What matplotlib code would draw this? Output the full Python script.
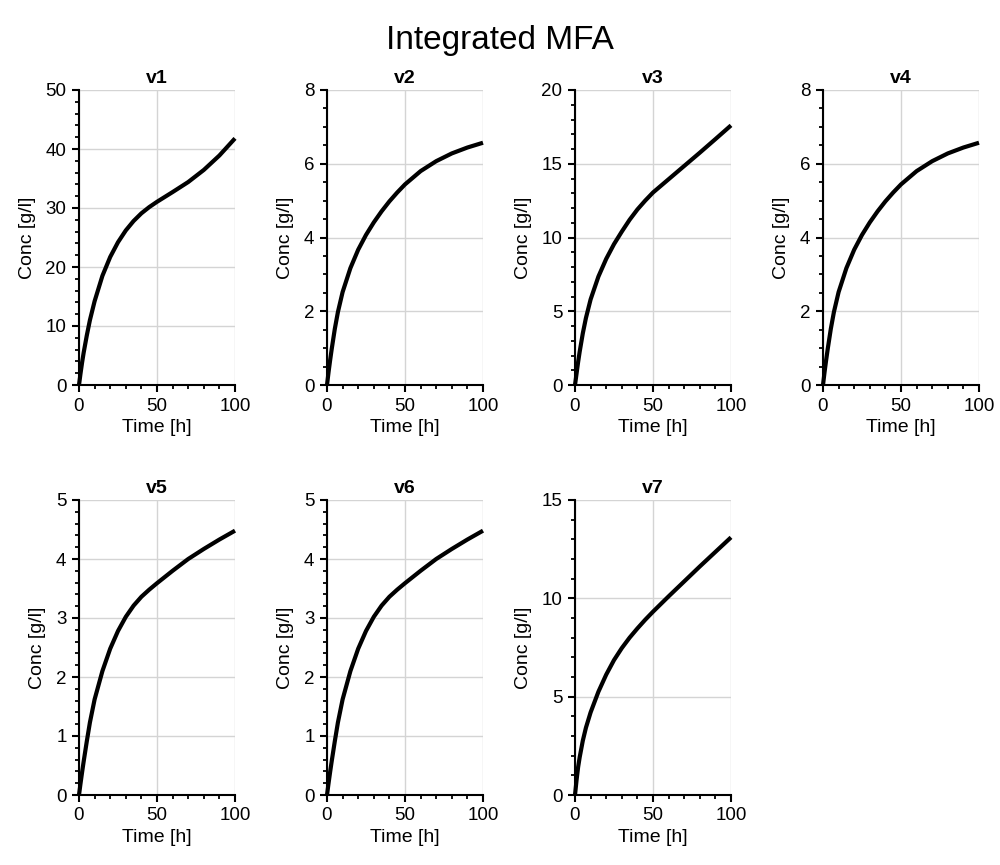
import matplotlib
matplotlib.use("Agg")
import matplotlib.pyplot as plt
from matplotlib.ticker import MultipleLocator

plt.rcParams['font.family'] = ['Liberation Sans', 'DejaVu Sans']

time_h = [0, 1, 2, 3, 5, 7, 10, 15, 20, 25, 30, 35, 40, 45, 50, 60, 70, 80, 90, 100]

v1 = [0, 2.0, 3.85, 5.5, 8.4, 11.0, 14.2, 18.5, 21.7, 24.2, 26.2, 27.8, 29.1, 30.15, 31.05, 32.7, 34.4, 36.45, 38.9, 41.8]
v2 = [0, 0.35, 0.67, 0.97, 1.52, 1.98, 2.52, 3.17, 3.67, 4.07, 4.41, 4.71, 4.98, 5.22, 5.44, 5.8, 6.07, 6.28, 6.44, 6.57]
v3 = [0, 0.78, 1.56, 2.26, 3.5, 4.54, 5.8, 7.35, 8.55, 9.55, 10.4, 11.2, 11.9, 12.5, 13.05, 13.95, 14.85, 15.75, 16.67, 17.6]
v4 = [0, 0.35, 0.67, 0.97, 1.52, 1.98, 2.52, 3.17, 3.67, 4.07, 4.41, 4.71, 4.98, 5.22, 5.44, 5.8, 6.07, 6.28, 6.44, 6.57]
v5 = [0, 0.2, 0.39, 0.57, 0.91, 1.23, 1.62, 2.1, 2.48, 2.78, 3.02, 3.21, 3.36, 3.48, 3.59, 3.8, 4.0, 4.17, 4.33, 4.48]
v6 = [0, 0.2, 0.39, 0.57, 0.91, 1.23, 1.62, 2.1, 2.48, 2.78, 3.02, 3.21, 3.36, 3.48, 3.59, 3.8, 4.0, 4.17, 4.33, 4.48]
v7 = [0, 0.76, 1.42, 1.92, 2.76, 3.42, 4.2, 5.25, 6.12, 6.86, 7.47, 8.0, 8.47, 8.91, 9.32, 10.1, 10.86, 11.62, 12.36, 13.1]

names = ["v1", "v2", "v3", "v4", "v5", "v6", "v7"]
series = [v1, v2, v3, v4, v5, v6, v7]
y_max = [50, 8, 20, 8, 5, 5, 15]
y_major = [10, 2, 5, 2, 1, 1, 5]
y_minor = [2, 0.5, 1, 0.5, 0.2, 0.2, 1]

W, H = 1000, 865
fig = plt.figure(figsize=(W / 100, H / 100), dpi=100)

lefts = [79, 327, 575, 823]
tops = [90, 500]
aw, ah = 156, 295

for i, (name, vals) in enumerate(zip(names, series)):
    r, c = divmod(i, 4)
    l = lefts[c]
    t = tops[r]
    ax = fig.add_axes([l / W, (H - t - ah) / H, aw / W, ah / H])
    ax.plot(time_h, vals, color='black', lw=3, solid_capstyle='butt',
            solid_joinstyle='round', zorder=3, clip_on=False)
    ax.set_xlim(0, 100)
    ax.set_ylim(0, y_max[i])
    ax.xaxis.set_major_locator(MultipleLocator(50))
    ax.xaxis.set_minor_locator(MultipleLocator(10))
    ax.yaxis.set_major_locator(MultipleLocator(y_major[i]))
    ax.yaxis.set_minor_locator(MultipleLocator(y_minor[i]))
    ax.grid(True, which='major', color='#d4d4d4', lw=1)
    ax.set_axisbelow(True)
    for s in ['top', 'right']:
        ax.spines[s].set_visible(False)
    for s in ['left', 'bottom']:
        ax.spines[s].set_linewidth(1.5)
        ax.spines[s].set_color('black')
    ax.tick_params(which='major', direction='out', length=5, width=1.5, labelsize=13.5, pad=4)
    ax.tick_params(which='minor', direction='out', length=3, width=1.3)
    ax.set_xlabel("Time [h]", fontsize=14, labelpad=3)
    ax.set_ylabel("Conc [g/l]", fontsize=14, labelpad=7)
    ax.set_title(name, fontsize=14, fontweight='bold', pad=5)

fig.suptitle("Integrated MFA", fontsize=24, y=1 - 40 / H, va='center')

fig.savefig("out.png", dpi=100)
